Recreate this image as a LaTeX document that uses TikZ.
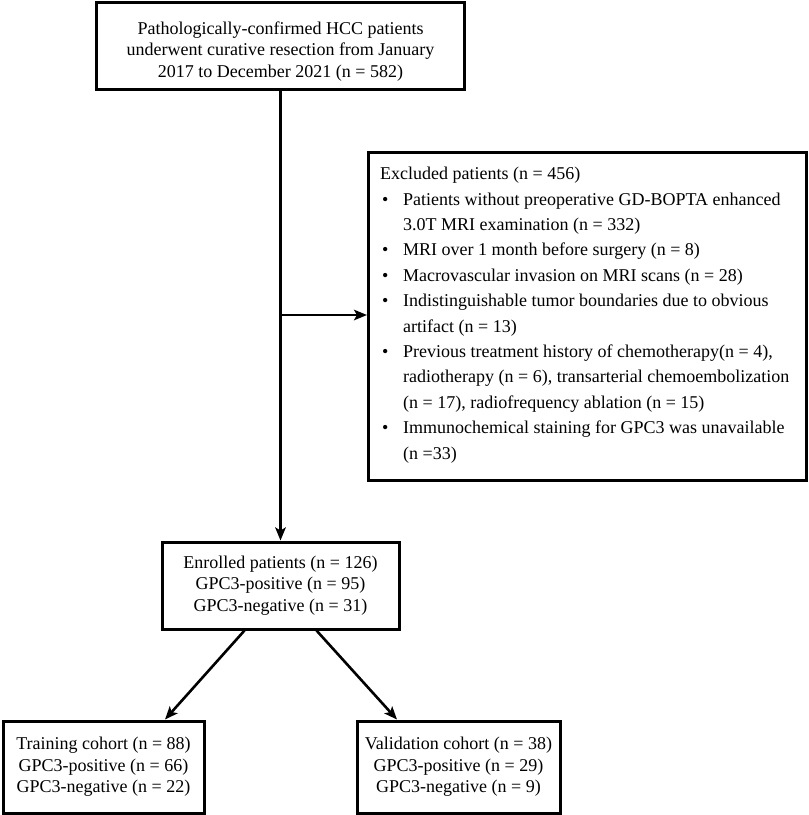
\documentclass[tikz,border=0pt]{standalone}
\usepackage{fontspec}
\setmainfont{Liberation Serif}
\usetikzlibrary{arrows.meta,calc}
\begin{document}
\begin{tikzpicture}[x=1pt,y=-1pt,
  box/.style={draw=black,line width=3pt,inner sep=0pt,align=center,
    font=\fontsize{18}{21.5}\selectfont},
  arr/.style={line width=2.6pt,-{Stealth[length=13pt,width=10.5pt,inset=3pt]}}]
\useasboundingbox (0,0) rectangle (809,815);
\node[box,minimum width=368,minimum height=87] (top) at (280.5,46.3)
  {\rule{0pt}{23pt}Pathologically-confirmed HCC patients\\underwent curative resection from January\\2017 to December 2021 (n = 582)};
\node[box,minimum width=438,minimum height=328,anchor=north west] (exc) at (367,151) {};
\node[anchor=north west,inner sep=0pt,align=left,font=\fontsize{18}{25.4}\selectfont] (exctext) at (380,167)
  {Excluded patients (n = 456)\\
   \makebox[23pt][l]{\hspace{2pt}•}Patients without preoperative GD-BOPTA enhanced\\
   \makebox[23pt][l]{}3.0T MRI examination (n = 332)\\
   \makebox[23pt][l]{\hspace{2pt}•}MRI over 1 month before surgery (n = 8)\\
   \makebox[23pt][l]{\hspace{2pt}•}Macrovascular invasion on MRI scans (n = 28)\\
   \makebox[23pt][l]{\hspace{2pt}•}Indistinguishable tumor boundaries due to obvious\\
   \makebox[23pt][l]{}artifact (n = 13)\\
   \makebox[23pt][l]{\hspace{2pt}•}Previous treatment history of chemotherapy(n = 4),\\
   \makebox[23pt][l]{}radiotherapy (n = 6), transarterial chemoembolization\\
   \makebox[23pt][l]{}(n = 17), radiofrequency ablation (n = 15)\\
   \makebox[23pt][l]{\hspace{2pt}•}Immunochemical staining for GPC3 was unavailable\\
   \makebox[23pt][l]{}(n =33)};
\node[box,minimum width=237,minimum height=87] (enr) at (280.5,585.5)
  {Enrolled patients (n = 126)\\GPC3-positive (n = 95)\\GPC3-negative (n = 31)};
\node[box,minimum width=201,minimum height=92] (tr) at (103.5,767)
  {Training cohort (n = 88)\\GPC3-positive (n = 66)\\GPC3-negative (n = 22)};
\node[box,minimum width=203,minimum height=92] (val) at (458.5,767)
  {Validation cohort (n = 38)\\GPC3-positive (n = 29)\\GPC3-negative (n = 9)};
\coordinate (j) at (280.5,315);
\draw[arr] (top.south) -- (enr.north);
\draw[arr] (j) -- (exc.west |- j);
\draw[arr] ([xshift=-36]enr.south) -- ([xshift=61.5]tr.north);
\draw[arr] ([xshift=36]enr.south) -- ([xshift=-61.5]val.north);
\end{tikzpicture}
\end{document}
